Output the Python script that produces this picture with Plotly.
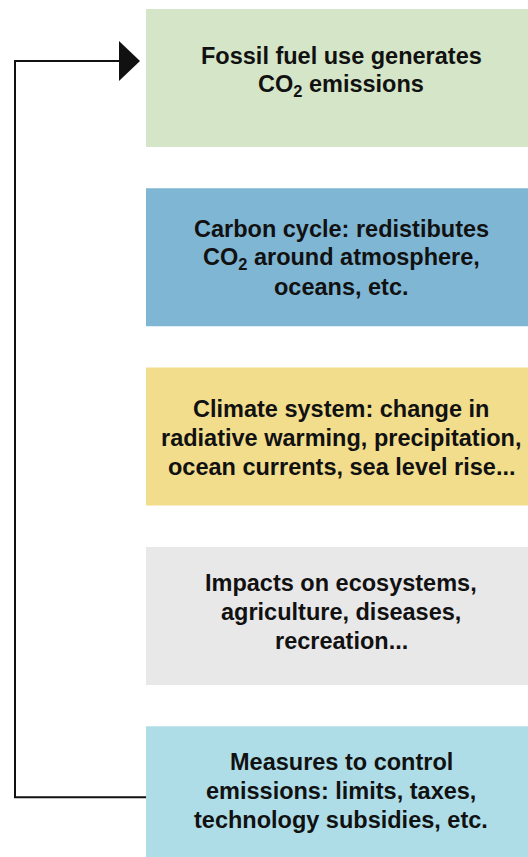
import plotly.graph_objects as go

# Textos das caixas (de cima para baixo)
etapas = [
    "Fossil fuel use generates<br>CO<sub>2</sub> emissions",
    "Carbon cycle: redistibutes<br>CO<sub>2</sub> around atmosphere,<br>oceans, etc.",
    "Climate system: change in<br>radiative warming, precipitation,<br>ocean currents, sea level rise...",
    "Impacts on ecosystems,<br>agriculture, diseases,<br>recreation...",
    "Measures to control<br>emissions: limits, taxes,<br>technology subsidies, etc.",
]
cores = ["#D5E5C8", "#7FB6D4", "#F2DD8C", "#E8E8E8", "#AEDDE8"]

# Layout em pixels
W, H = 528, 857
x0_caixa, x1_caixa = 146, 536
topo, passo, altura = 9, 179.3, 138
x_linha = 15
entrelinha = 29
ajuste_texto = [-7.5, 1, 1.5, -3.5, -4]  # deslocamento vertical do texto em cada caixa
fonte = dict(family="Liberation Sans, Arial, sans-serif", size=23.5, color="#111", weight="bold")

fig = go.Figure()

shapes = []
annotations = []
for i, (texto, cor) in enumerate(zip(etapas, cores)):
    y0 = topo + i * passo
    shapes.append(dict(type="rect", xref="x", yref="y", x0=x0_caixa, x1=x1_caixa,
                       y0=y0, y1=y0 + altura, fillcolor=cor, line_width=0, layer="below"))
    linhas = texto.split("<br>")
    centro = y0 + altura / 2 + ajuste_texto[i]
    for k, linha in enumerate(linhas):
        y_linha = centro + (k - (len(linhas) - 1) / 2) * entrelinha
        annotations.append(dict(x=341, y=y_linha, xref="x", yref="y", text=linha,
                                showarrow=False, align="center", yanchor="middle",
                                font=fonte))

# Linha de retorno (da última caixa para a primeira)
y_topo = topo + altura / 2 - 17
y_base = topo + 4 * passo + altura / 2 + 2
fig.add_trace(go.Scatter(
    x=[x0_caixa, x_linha, x_linha, 120],
    y=[y_base, y_base, y_topo, y_topo],
    mode="lines", line=dict(color="#111", width=2), hoverinfo="skip", showlegend=False,
))
# Ponta da seta
fig.add_trace(go.Scatter(
    x=[119, 140, 119, 119], y=[y_topo - 20, y_topo, y_topo + 20, y_topo - 20],
    mode="lines", fill="toself", fillcolor="#111", line=dict(color="#111", width=0),
    hoverinfo="skip", showlegend=False,
))

fig.update_layout(
    width=W, height=H,
    margin=dict(l=0, r=0, t=0, b=0),
    paper_bgcolor="white", plot_bgcolor="white",
    shapes=shapes, annotations=annotations,
    xaxis=dict(range=[0, W], visible=False, fixedrange=True),
    yaxis=dict(range=[H, 0], visible=False, fixedrange=True),
)

fig.write_html("out.html", config={"displayModeBar": False},
               post_script="document.body.style.margin='0';document.body.style.overflow='hidden';")
